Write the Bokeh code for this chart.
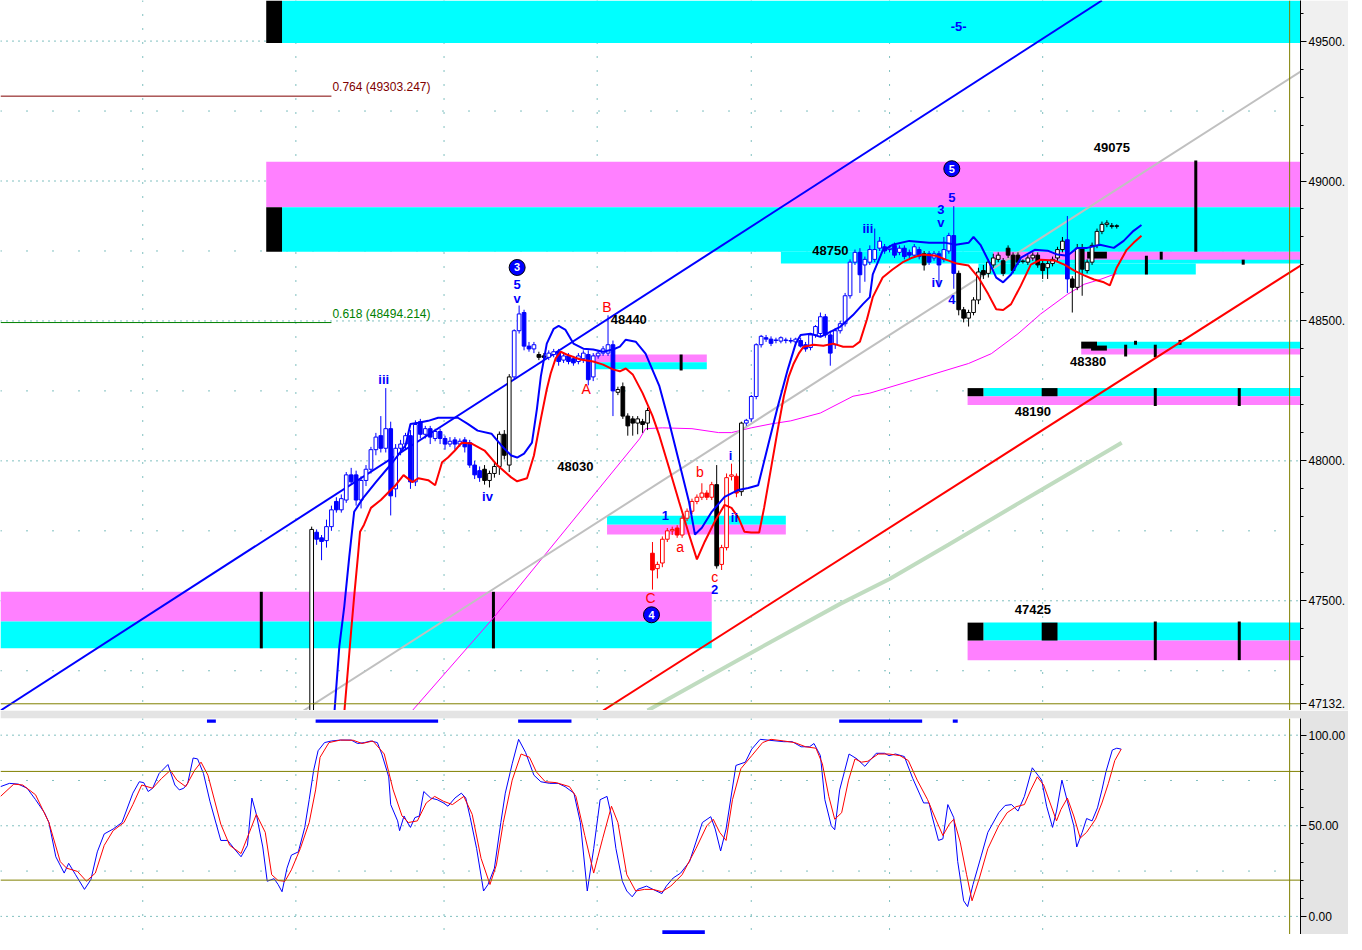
from bokeh.plotting import figure
from bokeh.layouts import column
from bokeh.models import Range1d, LinearAxis, FixedTicker, Span, ColumnDataSource
from bokeh.core.properties import value
from bokeh.embed import file_html
from bokeh.resources import INLINE

# ---------------- DATA ----------------
# candles (bar index = position in list)
opens = [46900,47745,47725,47715,47765,47855,47825,47860,47950,47950,47860,47930,47970,48040,48090,48045,48115,47900,48045,48060,
         48090,47925,48140,48095,48115,48080,48105,48080,48060,48075,48060,48075,48065,47985,47965,47970,47930,47955,47980,48095,
         47985,48300,48465,48530,48410,48400,48380,48375,48370,48380,48390,48360,48375,48365,48355,48365,48380,48300,48375,48385,
         48385,48415,48245,48265,48160,48150,48135,48140,48135,47670,47615,47635,47720,47750,47760,47735,47795,47820,47855,47870,
         47885,47870,47915,47630,47690,47945,47945,47890,48135,48150,48230,48415,48440,48435,48430,48428,48432,48430,48425,48430,
         48415,48405,48450,48455,48515,48450,48415,48465,48490,48590,48710,48745,48700,48710,48720,48760,48765,48755,48770,48745,
         48760,48745,48735,48755,48740,48740,48725,48740,48720,48750,48805,48670,48540,48510,48530,48575,48680,48670,48700,48720,
         48715,48760,48735,48735,48712,48710,48725,48735,48705,48690,48705,48725,48755,48790,48650,48620,48760,48680,48710,48770,
         48820,48845,48840,48840]
highs = [47765,47755,47735,47790,47840,47870,47880,47960,47975,47965,47945,47985,48050,48100,48160,48260,48140,48060,48075,48100,
         48110,48145,48150,48125,48125,48115,48115,48090,48085,48085,48080,48085,48075,48000,47980,47985,47965,47995,48105,48110,
         48310,48470,48555,48540,48425,48425,48390,48385,48395,48400,48400,48385,48385,48375,48385,48395,48395,48385,48395,48410,
         48520,48430,48265,48280,48170,48160,48160,48150,48190,47710,47640,47730,47760,47765,47770,47805,47830,47865,47880,47920,
         47895,47925,47985,47700,47955,47990,47955,48140,48150,48235,48420,48450,48450,48445,48440,48445,48440,48440,48440,48440,
         48425,48455,48485,48530,48525,48465,48475,48500,48600,48720,48755,48760,48730,48770,48830,48800,48775,48770,48780,48770,
         48770,48755,48775,48765,48750,48750,48750,48750,48800,48815,48910,48680,48550,48540,48585,48690,48700,48720,48740,48745,
         48725,48770,48745,48745,48720,48735,48745,48745,48715,48715,48730,48765,48800,48875,48660,48775,48775,48720,48780,48830,
         48855,48860,48850,48845]
lows = [46880,47700,47645,47690,47750,47815,47815,47850,47915,47840,47830,47910,47955,48020,48030,48030,47805,47870,48020,48040,
        47900,47910,48080,48080,48060,48070,48060,48040,48050,48040,48050,48030,47975,47935,47925,47915,47905,47940,47950,48005,
        47960,48290,48455,48395,48390,48385,48360,48360,48360,48370,48340,48350,48345,48340,48345,48350,48270,48285,48365,48375,
        48375,48160,48235,48150,48090,48090,48095,48100,48110,47540,47580,47620,47710,47735,47725,47725,47785,47810,47845,47860,
        47860,47860,47615,47610,47680,47930,47870,47875,48125,48140,48220,48405,48425,48410,48420,48420,48420,48420,48415,48405,
        48390,48395,48440,48445,48440,48340,48400,48455,48480,48580,48700,48600,48640,48700,48710,48750,48740,48745,48725,48735,
        48720,48725,48725,48720,48680,48700,48715,48620,48710,48740,48615,48520,48495,48480,48520,48560,48650,48655,48690,48710,
        48660,48725,48670,48700,48705,48700,48715,48690,48650,48650,48695,48715,48745,48600,48530,48610,48590,48670,48700,48760,
        48810,48835,48830,48830]
closes = [47755,47720,47712,47765,47825,47825,47865,47950,47925,47860,47930,47970,48040,48085,48045,48115,47875,48045,48060,48090,
          47925,48130,48095,48115,48085,48105,48080,48060,48070,48060,48070,48050,47985,47950,47940,47930,47955,47980,48095,48020,
          48300,48465,48525,48410,48400,48415,48370,48370,48385,48390,48355,48375,48355,48350,48375,48385,48290,48375,48385,48400,
          48415,48250,48255,48160,48125,48135,48150,48130,48180,47610,47630,47720,47750,47755,47735,47795,47820,47855,47870,47885,
          47870,47915,47625,47690,47940,47950,47885,48135,48145,48230,48415,48445,48435,48420,48432,48440,48430,48428,48435,48410,
          48400,48450,48480,48515,48450,48385,48465,48490,48590,48710,48745,48665,48720,48755,48755,48785,48750,48760,48735,48760,
          48730,48735,48765,48730,48700,48710,48740,48700,48755,48805,48670,48540,48510,48530,48575,48675,48665,48710,48725,48735,
          48670,48735,48680,48710,48714,48725,48735,48700,48680,48705,48720,48755,48785,48650,48620,48760,48685,48710,48770,48820,
          48845,48850,48838,48838]
candle_col = ("k" + "b" * 34 + "k" * 6 + "b" * 5 + "kk" + "b" * 14 + "k" * 7 + "r" * 13 + "k" + "r" * 4 + "k"
              + "b" * 36 + "k" + "b" * 6 + "k" * 22 + "b" + "k" * 10)

blue_ma_pts = [(4.6,47100),(5.6,47337),(6.6,47479),(7.6,47655),(8.6,47818),(10.4,47867),(13.0,47924),(16.4,47995),(19.0,48055),
    (20.0,48132),(21.6,48136),(23.6,48143),(25.6,48154),(29.6,48154),(31.6,48132),(33.6,48108),(36.4,48097),(38.4,48055),(40.4,48019),
    (41.6,48012),(43.0,48026),(44.6,48065),(45.6,48185),(46.4,48302),(47.6,48419),(49.0,48472),(50.0,48482),(51.4,48468),(53.0,48419),
    (55.0,48401),(57.0,48398),(59.0,48390),(61.0,48398),(62.4,48408),(63.6,48433),(65.6,48426),(67.6,48383),(70.4,48267),(72.4,48136),
    (74.4,47995),(76.4,47853),(77.6,47737),(79.0,47761),(81.0,47818),(83.6,47871),(86.4,47896),(88.4,47903),(90.4,47913),(92.4,48055),
    (94.4,48196),(96.4,48327),(98.0,48419),(99.0,48450),(101.0,48454),(103.0,48443),(105.0,48461),(107.0,48479),(109.6,48521),
    (111.6,48560),(113.0,48585),(113.6,48666),(115.6,48751),(117.6,48772),(121.0,48786),(125.0,48779),(128.4,48779),(130.4,48772),
    (133.0,48779),(134.0,48800),(135.4,48772),(137.0,48716),(138.6,48655),(140.0,48638),(141.6,48666),(143.6,48726),(146.4,48754),
    (149.0,48751),(151.0,48737),(153.0,48733),(155.0,48761),(157.0,48761),(159.6,48772),(162.4,48761),(164.4,48786),(166.4,48822),
    (168.0,48843)]
red_ma_pts = [(6.6,47100),(7.4,47267),(8.0,47394),(8.6,47515),(9.4,47666),(9.8,47747),(10.6,47772),(12.0,47832),(14.0,47860),
    (15.4,47885),(17.0,47913),(18.6,47949),(20.4,47924),(21.6,47938),(23.6,47931),(25.0,47913),(26.4,47995),(27.6,48012),(29.0,48037),
    (30.4,48065),(32.4,48062),(35.0,48037),(37.6,47984),(40.4,47941),(41.6,47927),(43.6,47938),(45.0,48019),(46.4,48150),(47.6,48256),
    (48.4,48313),(49.4,48366),(50.4,48390),(51.6,48380),(54.4,48362),(57.0,48355),(59.0,48344),(61.0,48327),(62.4,48320),(63.6,48330),
    (65.0,48309),(67.0,48242),(69.0,48161),(70.4,48090),(72.4,47973),(74.4,47853),(76.4,47737),(78.0,47648),(79.6,47712),(81.6,47783),
    (83.6,47843),(85.0,47832),(86.4,47797),(87.6,47747),(89.0,47744),(90.6,47744),(91.6,47832),(93.0,47973),(94.4,48115),(95.6,48231),
    (96.6,48302),(97.6,48348),(98.6,48383),(99.6,48408),(101.6,48415),(103.6,48411),(105.6,48419),(107.6,48408),(109.6,48408),
    (111.0,48426),(112.4,48504),(113.6,48585),(115.6,48655),(117.6,48684),(119.6,48709),(121.6,48726),(123.6,48737),(126.4,48733),
    (128.4,48719),(130.6,48705),(133.0,48698),(135.0,48655),(137.0,48595),(138.6,48542),(140.0,48539),(141.6,48560),(143.6,48627),
    (145.6,48701),(147.6,48719),(150.4,48716),(152.4,48701),(154.4,48680),(156.4,48663),(158.4,48648),(160.4,48638),(161.6,48627),
    (163.0,48691),(165.0,48754),(166.4,48779),(168.0,48804)]
magenta_ma_pts = [(20.0,47100),(37.0,47443),(66.4,48079),(67.6,48115),(71.0,48118),(77.0,48115),(82.4,48101),(85.0,48101),
    (89.0,48118),(93.0,48132),(97.0,48143),(103.0,48171),(109.6,48231),(113.0,48242),(124.4,48302),(133.0,48348),(137.6,48383),
    (143.0,48454),(147.6,48525),(153.0,48595),(156.4,48631),(159.6,48648),(163.0,48670)]
green_ma_pts = [(68,47108),(87,47295),(107,47489),(117,47578),(129,47701),(147,47889),(164,48065)]

blue_trend = [(-63, 47108), (160, 49645)]
gray_trend = [(-2.2, 47101), (200.2, 49391)]
red_trend = [(59, 47108), (200.2, 48698)]

fib_levels = [(0.764, 49303.247), (0.618, 48494.214)]
last_price = 47132

session_breaks = [-34.2, -3.2, 26.8, 57.8, 89, 117, 148]

stoch_k_pts = [(-63.0,71.6),(-61.2,73.4),(-59.4,73.0),(-57.6,70.7),(-55.9,64.4),(-54.1,57.2),(-53.2,51.8),(-51.8,32.9),(-50.1,23.9),
    (-49.2,29.3),(-47.8,23.0),(-46.0,14.9),(-44.7,20.3),(-43.4,35.6),(-42.0,45.5),(-40.2,48.2),(-38.4,51.8),(-36.2,68.0),(-34.9,74.3),
    (-34.0,73.8),(-33.1,68.9),(-32.2,70.7),(-30.9,78.8),(-29.1,83.8),(-27.7,72.5),(-26.8,69.8),(-25.9,70.7),(-25.1,73.4),(-24.0,87.4),
    (-23.1,86.9),(-21.9,78.8),(-20.6,63.5),(-18.4,41.9),(-17.0,41.9),(-15.7,37.4),(-14.3,32.9),(-13.0,39.2),(-12.1,65.3),(-11.2,56.3),
    (-9.9,38.3),(-9.0,19.4),(-7.6,20.8),(-6.8,17.6),(-6.0,13.6),(-5.0,26.6),(-4.1,33.8),(-2.7,35.6),(-1.4,49.1),(-0.5,64.4),(0.4,80.6),
    (1.3,91.4),(2.6,95.9),(4.0,96.8),(5.8,97.3),(8.0,97.3),(9.3,95.4),(10.7,95.9),(12.0,96.8),(13.3,95.9),(14.2,89.6),(15.6,77.0),
    (16.0,61.7),(17.4,52.7),(17.8,47.3),(18.7,55.4),(19.1,53.2),(20.0,49.1),(20.9,54.5),(21.8,55.4),(22.7,68.9),(24.1,65.3),(25.4,64.4),
    (26.7,62.6),(27.6,60.8),(29.0,65.3),(30.3,68.0),(31.2,65.3),(32.1,54.5),(33.4,37.4),(34.8,14.0),(35.7,17.6),(37.0,26.6),(38.3,51.8),
    (39.2,68.0),(40.6,84.2),(41.9,97.7),(43.3,90.5),(45.0,77.9),(46.4,74.3),(48.2,73.4),(49.9,73.4),(51.3,71.6),(53.1,68.0),(54.4,51.8),
    (55.8,14.0),(57.1,37.4),(58.4,64.4),(59.8,66.2),(60.7,55.4),(61.6,37.4),(62.9,19.4),(63.8,14.0),(64.9,10.8),(66.0,14.9),(67.8,16.7),
    (69.1,14.9),(70.9,12.6),(71.8,16.7),(73.2,21.2),(74.7,23.9),(76.5,30.2),(77.8,41.0),(79.1,51.8),(80.8,55.0),(81.7,48.2),(82.8,36.1),
    (83.9,48.2),(85.9,83.3),(87.8,85.1),(89.1,92.3),(90.8,97.7),(93.0,97.1),(95.6,96.4),(97.3,96.4),(99.1,93.6),(100.8,93.6),
    (101.7,95.4),(103.0,88.7),(103.9,64.4),(105.2,50.0),(105.9,47.8),(106.9,69.8),(108.8,89.6),(110.4,86.9),(112.0,82.8),(113.0,86.0),
    (114.3,90.0),(116.0,90.0),(116.9,88.7),(118.2,89.6),(120.0,88.2),(121.7,76.1),(123.9,62.6),(125.0,62.6),(125.6,55.4),(126.9,41.9),
    (127.8,42.8),(128.8,61.7),(130.0,54.5),(130.8,30.2),(132.0,8.6),(132.8,5.4),(133.9,17.6),(135.6,33.8),(136.9,46.4),(139.1,57.2),
    (140.4,61.2),(141.7,61.7),(143.0,58.1),(144.3,66.2),(145.9,82.0),(147.8,75.2),(148.8,60.8),(150.0,49.1),(150.8,58.1),(151.9,75.2),
    (153.0,63.5),(154.3,50.0),(154.9,38.3),(156.0,46.4),(156.9,54.0),(158.0,52.7),(159.1,59.9),(160.0,69.8),(160.8,79.7),(162.1,91.8),
    (163.0,92.8),(163.9,92.3)]
stoch_d_pts = [(-63.0,66.2),(-60.3,73.0),(-58.5,72.5),(-55.9,67.1),(-53.2,51.8),(-50.9,30.2),(-49.6,26.6),(-47.4,24.8),(-45.6,19.4),
    (-43.8,23.9),(-42.0,39.2),(-40.2,47.3),(-38.0,51.8),(-36.2,61.7),(-34.4,72.5),(-32.2,70.7),(-30.4,76.1),(-28.6,80.6),(-27.3,75.2),
    (-25.5,71.6),(-23.7,80.6),(-22.4,85.1),(-21.0,77.9),(-18.4,50.9),(-16.6,39.2),(-14.3,34.7),(-12.6,46.4),(-11.2,56.3),(-9.4,46.4),
    (-8.1,23.0),(-6.8,19.8),(-5.4,19.4),(-4.1,25.7),(-2.3,37.4),(-0.5,51.8),(0.8,69.8),(1.7,87.8),(3.5,95.9),(5.8,97.3),(8.4,97.2),
    (10.2,95.4),(12.4,96.8),(14.7,89.6),(16.5,69.8),(18.3,55.4),(19.6,51.8),(21.4,52.7),(23.2,62.6),(24.9,66.2),(26.7,63.5),(28.5,61.7),
    (30.8,66.2),(32.5,56.3),(34.3,32.0),(36.1,17.6),(37.4,28.4),(38.8,51.8),(40.6,75.2),(42.4,89.6),(44.1,87.8),(45.5,79.7),(47.3,74.3),
    (49.5,73.8),(52.2,71.6),(53.5,66.2),(55.3,44.6),(57.1,23.9),(58.9,42.8),(60.7,60.8),(62.0,51.8),(63.8,23.0),(65.6,14.0),(67.4,14.9),
    (69.1,14.9),(70.9,13.6),(72.7,16.7),(75.0,23.0),(77.8,37.4),(80.0,50.0),(81.3,53.6),(82.6,46.4),(83.9,41.9),(85.2,64.4),(86.9,81.5),
    (89.1,88.7),(91.3,95.9),(93.0,97.7),(95.6,96.8),(97.8,95.9),(100.0,93.6),(102.1,92.8),(103.4,84.2),(104.7,66.2),(105.9,53.6),
    (107.3,57.2),(108.7,75.2),(110.0,86.9),(111.3,85.1),(112.6,85.6),(114.7,89.6),(116.9,89.6),(119.1,88.7),(120.8,86.0),(122.6,75.2),
    (124.7,64.4),(126.5,52.7),(127.8,44.6),(129.1,50.9),(130.0,53.6),(131.3,41.0),(132.6,23.0),(133.7,8.6),(135.2,21.2),(136.9,37.4),
    (139.1,50.0),(140.8,57.2),(142.6,60.5),(144.3,61.7),(145.6,69.8),(146.9,77.0),(148.2,72.5),(149.5,62.6),(150.8,52.7),(151.7,59.0),
    (153.0,65.3),(154.3,55.4),(155.6,43.2),(156.9,46.4),(158.7,53.6),(160.0,62.6),(161.3,73.4),(162.6,86.0),(163.9,92.3)]
stoch_levels = [80, 20]
signal_top = [(-21.2, -19.4), (0.8, 25.6), (41.8, 52.6), (106.8, 123.6), (129.8, 130.8)]
signal_bottom = [(71, 79.6)]

# support / resistance zones: (left bar, right bar, low, high, kind)
zones = [
    (-6, 200.2, 49493, 49645, "c"), (-9.2, -6, 49493, 49645, "k"),
    (-9.2, 200.2, 48906, 49069, "m"), (-6, 200.2, 48747, 48906, "c"), (-9.2, -6, 48747, 48906, "k"),
    (95, 200.2, 48705, 48747, "c"), (138, 200.2, 48719, 48747, "m"), (135, 179, 48666, 48705, "c"), (157, 161, 48723, 48747, "k"),
    (159, 200.2, 48401, 48426, "c"), (155.8, 200.2, 48380, 48401, "m"), (155.8, 159, 48401, 48426, "k"), (157.8, 161, 48394, 48412, "k"),
    (136, 200.2, 48231, 48260, "c"), (132.8, 200.2, 48200, 48231, "m"), (132.8, 136, 48231, 48260, "k"), (147.8, 151, 48231, 48260, "k"),
    (136, 200.2, 47358, 47422, "c"), (132.8, 200.2, 47288, 47358, "m"), (132.8, 136, 47358, 47422, "k"), (147.8, 151, 47358, 47422, "k"),
    (-63, 81, 47426, 47532, "m"), (-63, 81, 47330, 47426, "c"),
    (59.8, 96, 47772, 47804, "c"), (59.8, 96, 47737, 47772, "m"),
    (57, 80, 48352, 48380, "m"), (57, 80, 48327, 48352, "c"),
]
zone_marks = [(179, 48747, 49073), (169, 48666, 48733), (172, 48719, 48747), (188.6, 48701, 48719),
              (164.8, 48373, 48415), (166.8, 48415, 48429), (170.8, 48370, 48415), (175.8, 48415, 48432),
              (170.8, 48196, 48260), (187.8, 48196, 48260), (170.8, 47288, 47426), (187.8, 47288, 47426),
              (-10.2, 47330, 47532), (36.8, 47330, 47532), (74.8, 48323, 48380)]

price_labels = [("49075", 162, 49118), ("48750", 105, 48751), ("48440", 64.2, 48504), ("48030", 53.4, 47981),
                ("48380", 157.2, 48355), ("48190", 146, 48178), ("47425", 146, 47468)]
wave_blue = [("-5-", 131, 49553), ("5", 129.6, 48942), ("3", 127.4, 48899), ("v", 127.4, 48853), ("iii", 112.6, 48832),
             ("iv", 126.6, 48638), ("4", 129.6, 48578), ("5", 41.6, 48631), ("v", 41.6, 48581), ("iii", 14.6, 48292),
             ("iv", 35.6, 47874), ("i", 84.8, 48019), ("1", 71.6, 47804), ("ii", 85.6, 47797), ("2", 81.6, 47539)]
wave_red = [("B", 59.8, 48549), ("A", 55.6, 48256), ("b", 78.6, 47959), ("a", 74.6, 47691), ("c", 81.6, 47585), ("C", 68.6, 47510)]
wave_circles = [("5", 129.6, 49044), ("3", 41.6, 48691), ("4", 68.8, 47450)]

# ---------------- STYLE ----------------
FONT = "Liberation Sans"
CY, PK, BK = "#00ffff", "#ff80ff", "#000000"
zone_color = {"c": CY, "m": PK, "k": BK}
ccol = {"b": "#0000ff", "k": "#000000", "r": "#ff0000"}
XR = Range1d(-63, 200.2)

def unzip(pts):
    return [a for a, _ in pts], [b for _, b in pts]

p = figure(frame_width=1300, frame_height=710, x_range=XR, y_range=Range1d(47108, 49645),
           output_backend="svg", toolbar_location=None, x_axis_location=None, y_axis_location=None,
           min_border_left=0, min_border_top=0, min_border_bottom=0, min_border_right=46,
           background_fill_color="white", border_fill_color="#f0f0f0", outline_line_color=None)
p.grid.visible = False

# dotted grid
for lv in range(47500, 49600, 500):
    p.add_layout(Span(location=lv, dimension="width", line_color="#008080", line_dash="1 5", level="underlay"))
for lv in range(47250, 49600, 500):
    p.add_layout(Span(location=lv, dimension="width", line_color="#008080", line_dash="1 25", level="underlay"))
for b in session_breaks:
    p.add_layout(Span(location=b, dimension="height", line_color="#008080", line_dash="1 13", level="underlay"))

# zones
p.quad(left=[z[0] for z in zones], right=[z[1] for z in zones], bottom=[z[2] for z in zones], top=[z[3] for z in zones],
       fill_color=[zone_color[z[4]] for z in zones], line_color=None)
p.segment(x0=[m[0] for m in zone_marks], y0=[m[1] for m in zone_marks], x1=[m[0] for m in zone_marks],
          y1=[m[2] for m in zone_marks], line_color="black", line_width=3)

# moving averages and trend lines
gx, gy = unzip(green_ma_pts)
p.line(gx, gy, line_color="#c0dcc0", line_width=4)
mx, my = unzip(magenta_ma_pts)
p.line(mx, my, line_color="#ff00ff", line_width=1)
tx, ty = unzip(gray_trend)
p.line(tx, ty, line_color="#c0c0c0", line_width=2)
tx, ty = unzip(red_trend)
p.line(tx, ty, line_color="#ff0000", line_width=2)
tx, ty = unzip(blue_trend)
p.line(tx, ty, line_color="#0000ff", line_width=2)

# fib levels
fib_colors = ["#800000", "#008000"]
for (ratio, lvl), fc in zip(fib_levels, fib_colors):
    p.line([-63, 4], [lvl, lvl], line_color=fc, line_width=1)
    p.text(x=[4.2], y=[lvl + 31], text=[f"{ratio} ({lvl:.3f})"], text_color=fc, text_font=value(FONT),
           text_font_size="12px", text_align="left", text_baseline="middle")

# candles
N = len(opens)
colors = [ccol[c] for c in candle_col[:N]]
src = ColumnDataSource(dict(
    x=list(range(N)), lo=lows, hi=highs,
    top=[max(o, c) for o, c in zip(opens, closes)],
    bot=[min(o, c) for o, c in zip(opens, closes)],
    col=colors,
    fill=["white" if c > o else col for o, c, col in zip(opens, closes, colors)],
))
p.segment(x0="x", y0="lo", x1="x", y1="hi", line_color="col", line_width=1, source=src)
p.vbar(x="x", width=0.75, top="top", bottom="bot", fill_color="fill", line_color="col", line_width=1, source=src)

bx, by = unzip(blue_ma_pts)
p.line(bx, by, line_color="#0000ff", line_width=2)
rx, ry = unzip(red_ma_pts)
p.line(rx, ry, line_color="#ff0000", line_width=2)

p.add_layout(Span(location=last_price, dimension="width", line_color="#808000", line_width=1))
p.add_layout(Span(location=198, dimension="height", line_color="#808000", line_width=1))

# labels
p.text(x=[t[1] for t in price_labels], y=[t[2] for t in price_labels], text=[t[0] for t in price_labels],
       text_color="black", text_font=value(FONT), text_font_style="bold", text_font_size="13px",
       text_align="center", text_baseline="middle")
p.text(x=[t[1] for t in wave_blue], y=[t[2] for t in wave_blue], text=[t[0] for t in wave_blue],
       text_color="#0000ff", text_font=value(FONT), text_font_style="bold", text_font_size="13px",
       text_align="center", text_baseline="middle")
p.text(x=[t[1] for t in wave_red], y=[t[2] for t in wave_red], text=[t[0] for t in wave_red],
       text_color="#ff0000", text_font=value(FONT), text_font_size="14px", text_align="center", text_baseline="middle")
p.scatter(x=[t[1] for t in wave_circles], y=[t[2] for t in wave_circles], marker="circle", size=16,
          fill_color="#0000ff", line_color="black", line_width=1)
p.text(x=[t[1] for t in wave_circles], y=[t[2] for t in wave_circles], text=[t[0] for t in wave_circles],
       text_color="white", text_font=value(FONT), text_font_style="bold", text_font_size="11px",
       text_align="center", text_baseline="middle")

ticks = list(range(47500, 49600, 500))
ax = LinearAxis(ticker=FixedTicker(ticks=ticks + [last_price], minor_ticks=list(range(47200, 49700, 100))))
labels = {t: f"{t}." for t in ticks}
labels[last_price] = f"{last_price}."
ax.major_label_overrides = labels
ax.axis_line_color = "black"
ax.major_tick_out = 6
ax.major_tick_in = 0
ax.minor_tick_out = 3
ax.minor_tick_in = 0
ax.major_label_standoff = 2
ax.major_label_text_font = FONT
ax.major_label_text_font_size = "12px"
ax.major_label_text_color = "black"
p.add_layout(ax, "right")

# ---------------- lower panel ----------------
q = figure(frame_width=1300, frame_height=216, x_range=XR, y_range=Range1d(-10, 109.2),
           output_backend="svg", toolbar_location=None, x_axis_location=None, y_axis_location=None,
           min_border_left=0, min_border_top=8, min_border_bottom=0, min_border_right=46,
           background_fill_color="white", border_fill_color="#e4e4e4", outline_line_color=None)
q.grid.visible = False
for lv in [0, 50, 100]:
    q.add_layout(Span(location=lv, dimension="width", line_color="#008080", line_dash="1 5", level="underlay"))
for lv in [25, 75]:
    q.add_layout(Span(location=lv, dimension="width", line_color="#008080", line_dash="1 25", level="underlay"))
for b in session_breaks:
    q.add_layout(Span(location=b, dimension="height", line_color="#008080", line_dash="1 13", level="underlay"))
for lv in stoch_levels:
    q.add_layout(Span(location=lv, dimension="width", line_color="#808000", line_width=1))
q.add_layout(Span(location=198, dimension="height", line_color="#808000", line_width=1))

q.quad(left=[s[0] for s in signal_top], right=[s[1] for s in signal_top], bottom=106.8, top=108.6,
       fill_color="#0000ff", line_color=None)
q.quad(left=[s[0] for s in signal_bottom], right=[s[1] for s in signal_bottom], bottom=-9.7, top=-7.6,
       fill_color="#0000ff", line_color=None)
kx, ky = unzip(stoch_k_pts)
q.line(kx, ky, line_color="#0000ff", line_width=1)
dx, dy = unzip(stoch_d_pts)
q.line(dx, dy, line_color="#ff0000", line_width=1)

ax2 = LinearAxis(ticker=FixedTicker(ticks=[0, 50, 100], minor_ticks=list(range(-10, 111, 10))))
ax2.major_label_overrides = {0: "0.00", 50: "50.00", 100: "100.00"}
ax2.axis_line_color = "black"
ax2.major_tick_out = 6
ax2.major_tick_in = 0
ax2.minor_tick_out = 3
ax2.minor_tick_in = 0
ax2.major_label_standoff = 2
ax2.major_label_text_font = FONT
ax2.major_label_text_font_size = "12px"
ax2.major_label_text_color = "black"
q.add_layout(ax2, "right")

layout = column(p, q, spacing=0)
open("out.html", "w").write(file_html(layout, INLINE))
